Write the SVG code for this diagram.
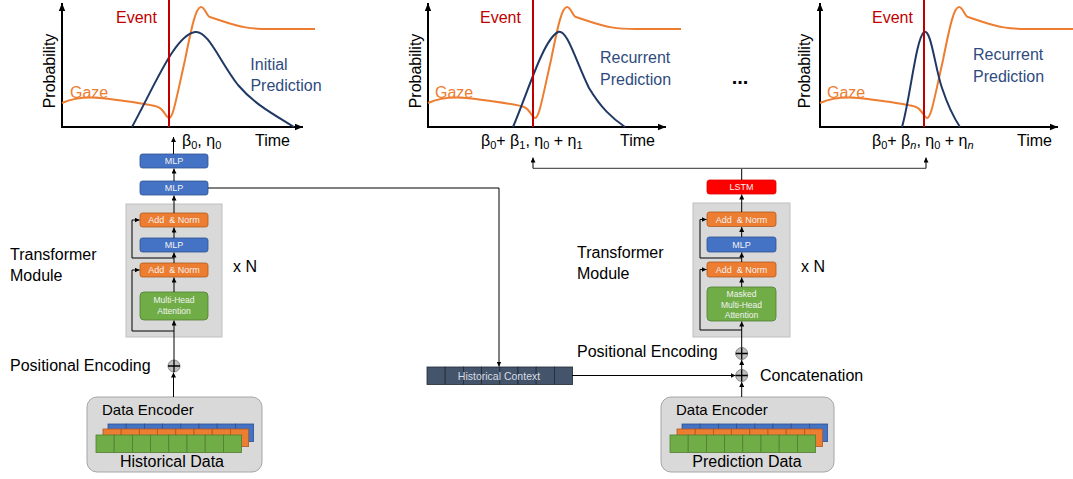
<svg xmlns="http://www.w3.org/2000/svg" xmlns:xlink="http://www.w3.org/1999/xlink" width="1073" height="479" viewBox="0 0 1073 479">
<defs>
<style>
text{font-family:"Liberation Sans",Arial,sans-serif;}
.lbl{font-size:16px;fill:#000;}
.ev{font-size:16px;fill:#C00000;}
.gz{font-size:16px;fill:#ED7D31;}
.pr{font-size:16px;fill:#2F4B7E;}
.axis{stroke:#000;stroke-width:2;fill:none;}
.red{stroke:#C00000;stroke-width:2;fill:none;}
.org{stroke:#ED7D31;stroke-width:2;fill:none;}
.blu{stroke:#203864;stroke-width:2;fill:none;}
.conn{stroke:#000;stroke-width:1;fill:none;}
.gconn{stroke:#595959;stroke-width:1.2;fill:none;}
.bx{stroke-width:0.8;}
.mlp{fill:#4472C4;stroke:#2F528F;}
.an{fill:#ED7D31;stroke:#AE5A21;}
.att{fill:#70AD47;stroke:#507E32;}
.lstm{fill:#FF0000;stroke:#E00000;}
.st{font-size:9px;fill:#F2F2F2;text-anchor:middle;white-space:pre;}
.st2{font-size:8.5px;fill:#F2F2F2;text-anchor:middle;}
.panel{fill:#D9D9D9;stroke:#BFBFBF;stroke-width:1;}
.enc{fill:#D9D9D9;stroke:#A6A6A6;stroke-width:1;}
.sub{font-size:11px;}
</style>
<marker id="ah" viewBox="0 0 10 10" refX="10" refY="5" markerWidth="5" markerHeight="5" orient="auto" markerUnits="userSpaceOnUse">
<path d="M0,0 L10,5 L0,10 z" fill="#000"/>
</marker>
<marker id="axh" viewBox="0 0 10 10" refX="10" refY="5" markerWidth="8" markerHeight="8" orient="auto" markerUnits="userSpaceOnUse">
<path d="M0,1 L10,5 L0,9 z" fill="#000"/>
</marker>
<g id="row">
<rect x="0" y="0" width="18.2" height="17.5"/><rect x="18.2" y="0" width="18.2" height="17.5"/><rect x="36.4" y="0" width="18.2" height="17.5"/><rect x="54.6" y="0" width="18.2" height="17.5"/><rect x="72.8" y="0" width="18.2" height="17.5"/><rect x="91" y="0" width="18.2" height="17.5"/><rect x="109.2" y="0" width="18.2" height="17.5"/><rect x="127.4" y="0" width="18.2" height="17.5"/>
</g>
<g id="plus">
<circle cx="0" cy="0" r="6" fill="#BFBFBF" stroke="#8C8C8C" stroke-width="1"/>
<path d="M-6,0 H6 M0,-6 V6" stroke="#000" stroke-width="1.3"/>
</g>
</defs>
<rect width="1073" height="479" fill="#fff"/>

<!-- Chart 1 -->
<g id="chart-initial">
<path class="axis" d="M62,127 V3" marker-end="url(#axh)"/>
<path class="axis" d="M61,127 H303" marker-end="url(#axh)"/>
<path class="org" d="M62,103 C75,97 90,96 110,99 C130,102 150,104 158,107 C164,109 166,118 169,118 C173,118 176,100 185,60 C192,25 196,7 201,7 C205,7 207,17 210,17 L225,22 C240,27 250,29 270,29 L315,29"/>
<path class="blu" d="M132,127 C155,85 175,35 195,32 C208,30 220,62 238,85 C255,105 275,115 294,127"/>
<path class="red" d="M169,0 V127"/>
<text class="ev" x="116" y="23">Event</text>
<text class="gz" x="70" y="98">Gaze</text>
<text class="pr" x="269" y="70" text-anchor="middle">Initial</text>
<text class="pr" x="286" y="91" text-anchor="middle">Prediction</text>
<text class="lbl" x="55" y="71" text-anchor="middle" transform="rotate(-90 55 71)">Probability</text>
<text class="lbl" x="255" y="146">Time</text>
<text class="lbl" x="182" y="146">β<tspan class="sub" dy="3">0</tspan><tspan dy="-3">, η</tspan><tspan class="sub" dy="3">0</tspan></text>
</g>

<!-- Chart 2 -->
<g id="chart-recurrent-1">
<path class="axis" d="M428,127 V3" marker-end="url(#axh)"/>
<path class="axis" d="M427,127 H666" marker-end="url(#axh)"/>
<path class="org" d="M428,103 C441,97 456,96 476,99 C496,102 516,104 524,107 C530,109 532,118 535,118 C539,118 542,100 551,60 C558,25 562,7 567,7 C571,7 573,17 576,17 L591,22 C606,27 616,29 636,29 L681,29"/>
<path class="blu" d="M513,127 C528,92 543,40 558,32 C567,28 576,62 589,88 C601,108 612,118 625,127"/>
<path class="red" d="M533,0 V127"/>
<text class="ev" x="480" y="23">Event</text>
<text class="gz" x="435" y="98">Gaze</text>
<text class="pr" x="600" y="63">Recurrent</text>
<text class="pr" x="600" y="85">Prediction</text>
<text class="lbl" x="421" y="71" text-anchor="middle" transform="rotate(-90 421 71)">Probability</text>
<text class="lbl" x="620" y="146">Time</text>
<text class="lbl" x="481" y="146">β<tspan class="sub" dy="3">0</tspan><tspan dy="-3">+ β</tspan><tspan class="sub" dy="3">1</tspan><tspan dy="-3">, η</tspan><tspan class="sub" dy="3">0</tspan><tspan dy="-3"> + η</tspan><tspan class="sub" dy="3">1</tspan></text>
</g>

<text x="740" y="84" text-anchor="middle" style="font-size:20px;font-weight:bold;">...</text>

<!-- Chart 3 -->
<g id="chart-recurrent-n">
<path class="axis" d="M820,127 V3" marker-end="url(#axh)"/>
<path class="axis" d="M819,127 H1058" marker-end="url(#axh)"/>
<path class="org" d="M820,103 C833,97 848,96 868,99 C888,102 908,104 916,107 C922,109 924,118 927,118 C931,118 934,100 943,60 C950,25 954,7 959,7 C963,7 965,17 968,17 L983,22 C998,27 1008,29 1028,29 L1073,29"/>
<path class="blu" d="M902,127 C910,100 916,38 924,32 C931,28 935,68 942,88 C948,106 954,118 960,127"/>
<path class="red" d="M924,0 V127"/>
<text class="ev" x="872" y="23">Event</text>
<text class="gz" x="827" y="98">Gaze</text>
<text class="pr" x="973" y="60">Recurrent</text>
<text class="pr" x="973" y="82">Prediction</text>
<text class="lbl" x="810" y="71" text-anchor="middle" transform="rotate(-90 810 71)">Probability</text>
<text class="lbl" x="1017" y="146">Time</text>
<text class="lbl" x="872" y="146">β<tspan class="sub" dy="3">0</tspan><tspan dy="-3">+ β</tspan><tspan class="sub" dy="3" font-style="italic">n</tspan><tspan dy="-3">, η</tspan><tspan class="sub" dy="3">0</tspan><tspan dy="-3"> + η</tspan><tspan class="sub" dy="3" font-style="italic">n</tspan></text>
</g>

<!-- Left transformer -->
<g id="left-transformer-panel">
<rect class="panel" x="126" y="204" width="96" height="133"/>
</g>
<g id="left-mlp-top"><rect class="bx mlp" x="140" y="154" width="68" height="14" rx="2.5"/><text class="st" x="174" y="164.2">MLP</text></g>
<g id="left-mlp-out"><rect class="bx mlp" x="140" y="181" width="68" height="14" rx="2.5"/><text class="st" x="174" y="191.2">MLP</text></g>
<g id="left-addnorm-2"><rect class="bx an" x="140" y="213" width="68" height="14" rx="2.5"/><text class="st" x="174" y="223.2">Add  &amp; Norm</text></g>
<g id="left-mlp-inner"><rect class="bx mlp" x="140" y="238" width="68" height="14" rx="2.5"/><text class="st" x="174" y="248.2">MLP</text></g>
<g id="left-addnorm-1"><rect class="bx an" x="140" y="263" width="68" height="14" rx="2.5"/><text class="st" x="174" y="273.2">Add  &amp; Norm</text></g>
<g id="left-attention"><rect class="bx att" x="140" y="292" width="68" height="28" rx="4"/><text class="st2" x="174" y="303">Multi-Head</text><text class="st2" x="174" y="314">Attention</text></g>
<text class="lbl" x="10" y="260">Transformer</text>
<text class="lbl" x="10" y="281">Module</text>
<text class="lbl" x="233" y="272">x N</text>
<text class="lbl" x="10" y="371">Positional Encoding</text>
<g id="left-plus"><use xlink:href="#plus" x="174" y="366"/></g>

<!-- Left data encoder -->
<g id="left-data-encoder">
<rect class="enc" x="87" y="397" width="175" height="75" rx="10"/>
<text class="lbl" x="102" y="415" style="font-size:15px">Data Encoder</text>
<use xlink:href="#row" x="108" y="424" fill="#4472C4" stroke="#2F528F" stroke-width="0.8"/>
<use xlink:href="#row" x="103" y="429" fill="#ED7D31" stroke="#AE5A21" stroke-width="0.8"/>
<use xlink:href="#row" x="96" y="435" fill="#70AD47" stroke="#507E32" stroke-width="0.8"/>
<text class="lbl" x="172" y="467" text-anchor="middle">Historical Data</text>
</g>

<!-- Historical context -->
<g id="historical-context">
<use xlink:href="#row" x="427" y="367" fill="#44546A" stroke="#222A35" stroke-width="0.8"/>
<text x="499" y="379.5" text-anchor="middle" style="font-size:10.5px;fill:#D6DCE5">Historical Context</text>
</g>

<!-- Right transformer -->
<g id="right-transformer-panel">
<rect class="panel" x="693" y="203" width="97" height="134"/>
</g>
<g id="right-lstm"><rect class="bx lstm" x="707" y="180" width="69" height="14" rx="2.5"/><text class="st" x="741.5" y="190.2">LSTM</text></g>
<g id="right-addnorm-2"><rect class="bx an" x="707" y="212" width="69" height="14.5" rx="2.5"/><text class="st" x="741.5" y="222.5">Add  &amp; Norm</text></g>
<g id="right-mlp"><rect class="bx mlp" x="707" y="237" width="69" height="15" rx="2.5"/><text class="st" x="741.5" y="247.7">MLP</text></g>
<g id="right-addnorm-1"><rect class="bx an" x="707" y="262" width="69" height="15" rx="2.5"/><text class="st" x="741.5" y="272.7">Add  &amp; Norm</text></g>
<g id="right-attention"><rect class="bx att" x="707" y="287" width="69" height="34" rx="4"/><text class="st2" x="741.5" y="297">Masked</text><text class="st2" x="741.5" y="307.5">Multi-Head</text><text class="st2" x="741.5" y="318">Attention</text></g>
<text class="lbl" x="577" y="258">Transformer</text>
<text class="lbl" x="577" y="279">Module</text>
<text class="lbl" x="801" y="272">x N</text>
<text class="lbl" x="577" y="357">Positional Encoding</text>
<text class="lbl" x="760" y="381">Concatenation</text>
<g id="right-plus-pos"><use xlink:href="#plus" x="741.7" y="353.5"/></g>
<g id="right-plus-concat"><use xlink:href="#plus" x="741.7" y="375.5"/></g>

<!-- Right data encoder -->
<g id="right-data-encoder">
<rect class="enc" x="661" y="397" width="173" height="75" rx="10"/>
<text class="lbl" x="676" y="415" style="font-size:15px">Data Encoder</text>
<use xlink:href="#row" x="682" y="424" fill="#4472C4" stroke="#2F528F" stroke-width="0.8"/>
<use xlink:href="#row" x="677" y="429" fill="#ED7D31" stroke="#AE5A21" stroke-width="0.8"/>
<use xlink:href="#row" x="670" y="435" fill="#70AD47" stroke="#507E32" stroke-width="0.8"/>
<text class="lbl" x="747" y="467" text-anchor="middle">Prediction Data</text>
</g>

<!-- Connectors -->
<g id="connectors">
<path class="conn" d="M173.5,397 V372.5" marker-end="url(#ah)"/>
<path class="conn" d="M174,360 V320.5" marker-end="url(#ah)"/>
<path class="conn" d="M174,331 H132 V270 H139.5" marker-end="url(#ah)"/>
<path class="conn" d="M174,292 V277.5" marker-end="url(#ah)"/>
<path class="conn" d="M174,263 V252.5" marker-end="url(#ah)"/>
<path class="conn" d="M174,258 H132 V220 H139.5" marker-end="url(#ah)"/>
<path class="conn" d="M174,238 V227.5" marker-end="url(#ah)"/>
<path class="conn" d="M174,213 V195.5" marker-end="url(#ah)"/>
<path class="conn" d="M174,181 V168.5" marker-end="url(#ah)"/>
<path class="conn" d="M173.5,154 V137" marker-end="url(#ah)"/>
<path class="conn" d="M208,188 H499 V366.5" marker-end="url(#ah)"/>
<path class="conn" d="M572,375.5 H735.5" marker-end="url(#ah)"/>
<path class="conn" d="M741.7,397 V382" marker-end="url(#ah)"/>
<path class="conn" d="M741.7,369.5 V360" marker-end="url(#ah)"/>
<path class="conn" d="M741.7,347.5 V321.5" marker-end="url(#ah)"/>
<path class="conn" d="M741.7,330 H700 V269.5 H706.5" marker-end="url(#ah)"/>
<path class="conn" d="M741.7,287 V277.5" marker-end="url(#ah)"/>
<path class="conn" d="M741.7,262 V252.5" marker-end="url(#ah)"/>
<path class="conn" d="M741.7,258 H700 V219.5 H706.5" marker-end="url(#ah)"/>
<path class="conn" d="M741.7,237 V227" marker-end="url(#ah)"/>
<path class="conn" d="M741.7,212 V194.5" marker-end="url(#ah)"/>
<path class="conn" d="M741.7,180 V168.3"/>
<path class="gconn" d="M533,168.3 H926"/>
<path class="conn" d="M533,168.3 V157.5" marker-end="url(#ah)"/>
<path class="conn" d="M926,168.3 V157.5" marker-end="url(#ah)"/>
</g>
</svg>
